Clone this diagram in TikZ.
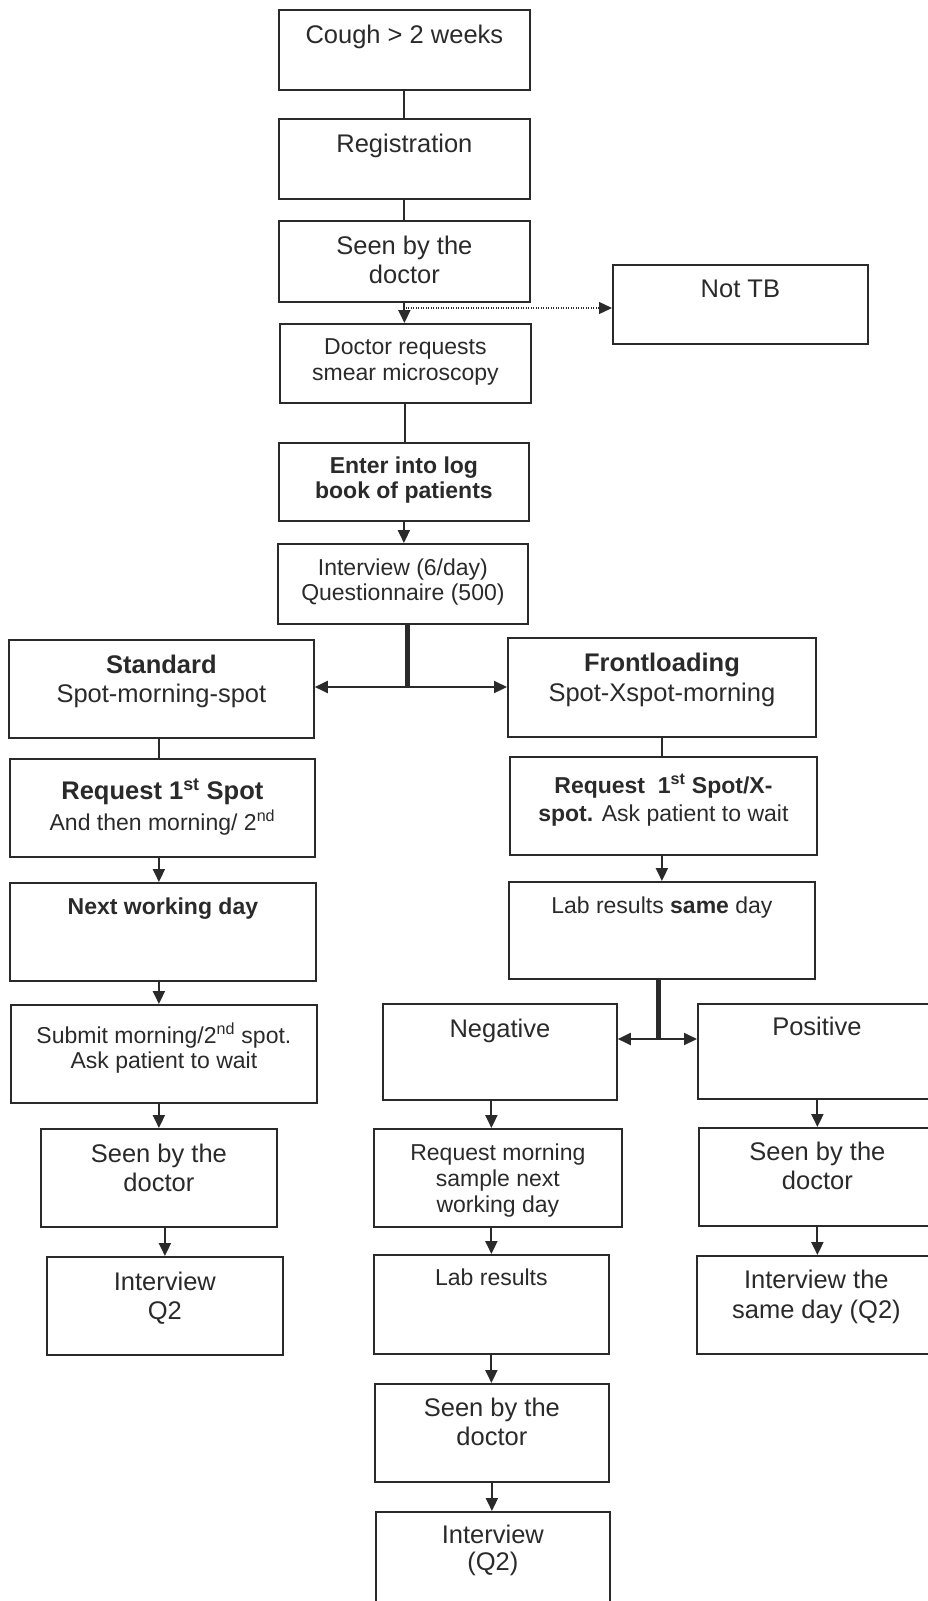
\documentclass[tikz,border=0pt]{standalone}
\usepackage{fontspec}
\setmainfont{Liberation Sans}
\usepackage{tikz}
\usetikzlibrary{arrows.meta}

\definecolor{ink}{HTML}{2A2A2A}
\newcommand{\bigfont}{\fontsize{25.5}{29}\selectfont}
\newcommand{\smallfont}{\fontsize{23}{26}\selectfont}
\newcommand{\boxtext}[4]{\parbox[c][#2pt][t]{#1pt}{\centering\rule{0pt}{#3pt}#4}}

\begin{document}
\begin{tikzpicture}[x=1pt, y=-1pt, color=ink,
    flowbox/.style={draw=ink, line width=1.8pt, inner sep=0pt, anchor=north west, text=ink},
    bigbox/.style={flowbox, font=\bigfont},
    smallbox/.style={flowbox, font=\smallfont},
    link/.style={draw=ink, line width=2pt},
    arr/.style={link, -{Triangle[length=13pt,width=12pt]}},
    fork/.style={draw=ink, line width=5pt},
    dotarr/.style={draw=ink, line width=1.3pt, dash pattern=on 1.3pt off 1.2pt, -{Triangle[length=13pt,width=12pt]}}]
\useasboundingbox (0,0) rectangle (927,1601);

\node[bigbox] (cough) at (278,9) {\boxtext{251}{80}{34}{Cough > 2 weeks}};
\node[bigbox] (reg) at (278,118) {\boxtext{251}{80}{34}{Registration}};
\node[bigbox] (seen1) at (278,220) {\boxtext{251}{81}{34}{Seen by the\\doctor}};
\node[bigbox] (nottb) at (612,264) {\boxtext{255}{79}{33}{Not TB}};
\node[smallbox] (docreq) at (279,323) {\boxtext{251}{79}{31}{Doctor requests\\smear microscopy}};
\node[smallbox] (log) at (278,442) {\boxtext{250}{78}{31}{\textbf{Enter into log}\\[-1pt]\textbf{book of patients}}};
\node[smallbox] (int1) at (277,543) {\boxtext{250}{80}{32}{Interview (6/day)\\[-1pt]Questionnaire (500)}};

\node[bigbox] (std) at (8,639) {\boxtext{305}{98}{34}{\textbf{Standard}\\Spot-morning-spot}};
\node[bigbox] (front) at (507,637) {\boxtext{308}{99}{34}{\textbf{Frontloading}\\[1pt]Spot-Xspot-morning}};
\node[smallbox] (req1) at (9,758) {\boxtext{305}{98}{41}{{\bigfont\textbf{Request 1\textsuperscript{st} Spot}}\\[5pt]And then morning/ 2\textsuperscript{nd}}};
\node[smallbox] (req2) at (509,756) {\boxtext{307}{98}{37}{\textbf{Request \ 1\textsuperscript{st} Spot/X-}\\[2pt]\textbf{spot.} Ask patient to wait}};
\node[smallbox] (next) at (9,882) {\boxtext{306}{98}{32}{\textbf{Next working day}}};
\node[smallbox] (labsame) at (508,881) {\boxtext{306}{97}{32}{Lab results \textbf{same} day}};
\node[smallbox] (submit) at (10,1004) {\boxtext{306}{98}{39}{Submit morning/2\textsuperscript{nd} spot.\\[-1pt]Ask patient to wait}};
\node[bigbox] (neg) at (382,1003) {\boxtext{234}{96}{34}{Negative}};
\node[bigbox] (pos) at (697,1003) {\boxtext{238}{95}{32}{Positive}};

\node[bigbox] (seen2) at (40,1128) {\boxtext{236}{98}{34}{Seen by the\\doctor}};
\node[smallbox] (reqmorn) at (373,1128) {\boxtext{248}{98}{32}{Request morning\\sample next\\working day}};
\node[bigbox] (seen3) at (698,1127) {\boxtext{237}{98}{33}{Seen by the\\doctor}};
\node[bigbox] (intq2) at (46,1256) {\boxtext{236}{98}{34}{Interview\\Q2}};
\node[smallbox] (lab) at (373,1254) {\boxtext{235}{99}{31}{Lab results}};
\node[bigbox] (intsame) at (696,1255) {\boxtext{239}{98}{33}{Interview the\\[1pt]same day (Q2)}};
\node[bigbox] (seen4) at (374,1383) {\boxtext{234}{98}{33}{Seen by the\\doctor}};
\node[bigbox] (intq2b) at (375,1511) {\boxtext{234}{95}{32}{Interview\\[-2pt](Q2)}};

\draw[link] (cough) -- (reg);
\draw[link] (reg) -- (seen1);
\draw[arr] (seen1.south) -- (seen1.south |- docreq.north);
\coordinate (split) at (403,308);
\draw[dotarr] (split) -- (split -| nottb.west);
\draw[link] (docreq.south) -- (docreq.south |- log.north);
\draw[arr] (log.south) -- (log.south |- int1.north);
\coordinate (fork1) at (407,687);
\draw[fork] (fork1 |- int1.south) -- (fork1);
\draw[arr] (fork1) -- (fork1 -| std.east);
\draw[arr] (fork1) -- (fork1 -| front.west);

\draw[link] (seen2.north |- std.south) -- (seen2.north |- req1.north);
\draw[arr] (seen2.north |- req1.south) -- (seen2.north |- next.north);
\draw[arr] (seen2.north |- next.south) -- (seen2.north |- submit.north);
\draw[arr] (seen2.north |- submit.south) -- (seen2.north);
\draw[arr] (intq2.north |- seen2.south) -- (intq2.north);

\draw[link] (front.south) -- (front.south |- req2.north);
\draw[arr] (front.south |- req2.south) -- (front.south |- labsame.north);
\coordinate (fork2) at (658,1039);
\draw[fork] (fork2 |- labsame.south) -- (fork2);
\draw[arr] (fork2) -- (fork2 -| neg.east);
\draw[arr] (fork2) -- (fork2 -| pos.west);
\draw[arr] (lab.north |- neg.south) -- (lab.north |- reqmorn.north);
\draw[arr] (lab.north |- reqmorn.south) -- (lab.north);
\draw[arr] (lab.south) -- (lab.south |- seen4.north);
\draw[arr] (seen4.south) -- (seen4.south |- intq2b.north);
\draw[arr] (seen3.north |- pos.south) -- (seen3.north);
\draw[arr] (seen3.south) -- (seen3.south |- intsame.north);
\end{tikzpicture}
\end{document}
